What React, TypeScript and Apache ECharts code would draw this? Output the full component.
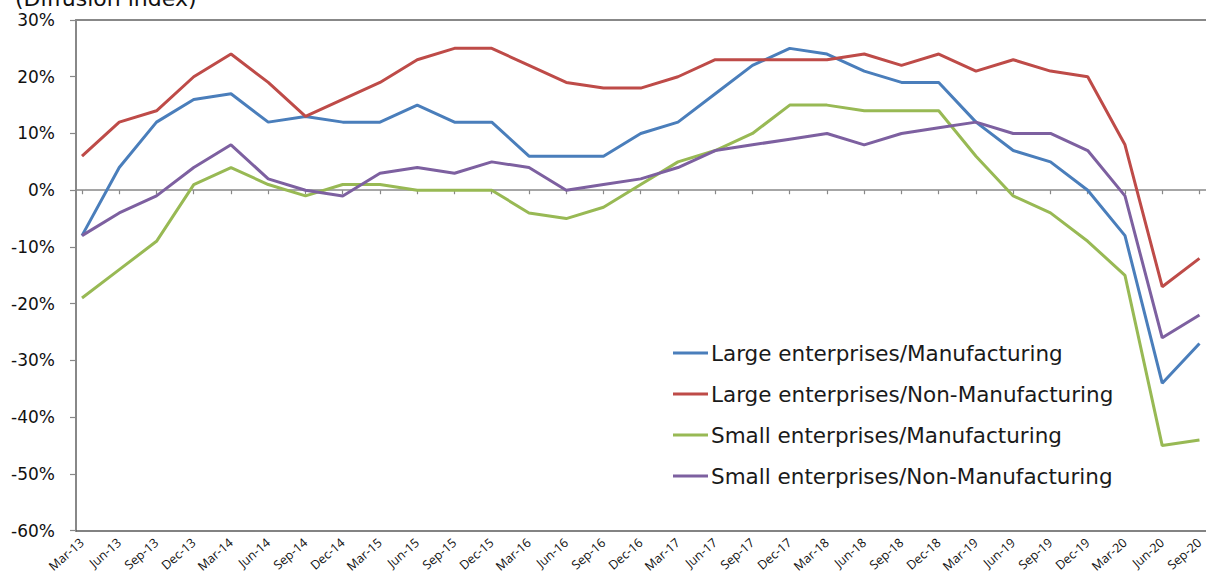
import React, { useEffect, useRef } from "react";
import * as echarts from "echarts";

const categories = [
  "Mar-13", "Jun-13", "Sep-13", "Dec-13",
  "Mar-14", "Jun-14", "Sep-14", "Dec-14",
  "Mar-15", "Jun-15", "Sep-15", "Dec-15",
  "Mar-16", "Jun-16", "Sep-16", "Dec-16",
  "Mar-17", "Jun-17", "Sep-17", "Dec-17",
  "Mar-18", "Jun-18", "Sep-18", "Dec-18",
  "Mar-19", "Jun-19", "Sep-19", "Dec-19",
  "Mar-20", "Jun-20", "Sep-20",
];

const largeMfg = [-8, 4, 12, 16, 17, 12, 13, 12, 12, 15, 12, 12, 6, 6, 6, 10, 12, 17, 22, 25, 24, 21, 19, 19, 12, 7, 5, 0, -8, -34, -27];
const largeNonMfg = [6, 12, 14, 20, 24, 19, 13, 16, 19, 23, 25, 25, 22, 19, 18, 18, 20, 23, 23, 23, 23, 24, 22, 24, 21, 23, 21, 20, 8, -17, -12];
const smallMfg = [-19, -14, -9, 1, 4, 1, -1, 1, 1, 0, 0, 0, -4, -5, -3, 1, 5, 7, 10, 15, 15, 14, 14, 14, 6, -1, -4, -9, -15, -45, -44];
const smallNonMfg = [-8, -4, -1, 4, 8, 2, 0, -1, 3, 4, 3, 5, 4, 0, 1, 2, 4, 7, 8, 9, 10, 8, 10, 11, 12, 10, 10, 7, -1, -26, -22];

const seriesNames = [
  "Large enterprises/Manufacturing",
  "Large enterprises/Non-Manufacturing",
  "Small enterprises/Manufacturing",
  "Small enterprises/Non-Manufacturing",
];
const seriesColors = ["#4a7ebb", "#be4b48", "#98b954", "#7d60a0"];
const seriesData = [largeMfg, largeNonMfg, smallMfg, smallNonMfg];

const yMin = -60;
const yMax = 30;
const yStep = 10;

export default function App() {
  const ref = useRef<HTMLDivElement>(null);
  useEffect(() => {
    if (!ref.current) return;
    const chart = echarts.init(ref.current, undefined, { renderer: "svg" });
    const hidden = { show: false };
    const gridTop = 20;
    const gridBottom = 47.3;
    chart.setOption({
      animation: false,
      backgroundColor: "#ffffff",
      grid: [
        { left: 76, right: 0, top: gridTop, bottom: gridBottom },
        { left: 82, right: 3, top: gridTop, bottom: gridBottom },
      ],
      graphic: [
        {
          type: "text",
          x: 15,
          y: 9,
          style: {
            text: "(Diffusion index)",
            fontSize: 22,
            fontFamily: "DejaVu Sans",
            fill: "#111111",
            verticalAlign: "bottom",
          },
        },
      ],
      legend: {
        orient: "vertical",
        left: 673,
        top: 342,
        padding: 0,
        icon: "rect",
        itemWidth: 35,
        itemHeight: 3,
        itemGap: 19,
        data: seriesNames,
        textStyle: {
          fontSize: 21.5,
          lineHeight: 22,
          fontFamily: "DejaVu Sans",
          color: "#1a1a1a",
          padding: [0, 0, 0, -2],
        },
      },
      xAxis: [
        {
          gridIndex: 0,
          type: "value",
          min: 0,
          max: 1,
          position: "bottom",
          axisLine: { show: true, onZero: false, lineStyle: { color: "#5a5a5a", width: 1.5 } },
          axisTick: hidden,
          axisLabel: hidden,
          splitLine: hidden,
        },
        {
          gridIndex: 0,
          type: "value",
          min: 0,
          max: 1,
          position: "top",
          axisLine: { show: true, onZero: false, lineStyle: { color: "#888888", width: 2 } },
          axisTick: hidden,
          axisLabel: hidden,
          splitLine: hidden,
        },
        {
          gridIndex: 0,
          type: "value",
          min: 0,
          max: 1,
          position: "bottom",
          axisLine: { show: true, onZero: true, lineStyle: { color: "#888888", width: 1.5 } },
          axisTick: hidden,
          axisLabel: hidden,
          splitLine: hidden,
        },
        {
          gridIndex: 1,
          type: "category",
          data: categories,
          boundaryGap: false,
          position: "bottom",
          axisLine: { show: false, onZero: false },
          axisTick: hidden,
          axisLabel: {
            rotate: 41,
            interval: 0,
            margin: 10,
            fontSize: 12.5,
            fontFamily: "Open Sans",
            color: "#111111",
          },
          splitLine: hidden,
        },
        {
          gridIndex: 1,
          type: "category",
          data: categories,
          boundaryGap: false,
          position: "bottom",
          axisLine: { show: false, onZero: true },
          axisTick: { show: true, interval: 0, length: 4, lineStyle: { color: "#888888", width: 1.2 } },
          axisLabel: hidden,
          splitLine: hidden,
        },
      ],
      yAxis: [
        {
          gridIndex: 0,
          type: "value",
          min: yMin,
          max: yMax,
          interval: yStep,
          axisLine: { show: true, onZero: false, lineStyle: { color: "#888888", width: 2 } },
          axisTick: { show: true, length: 6, lineStyle: { color: "#888888", width: 1.2 } },
          axisLabel: {
            formatter: "{value}%",
            fontSize: 17,
            fontFamily: "DejaVu Sans",
            color: "#111111",
            margin: 21,
          },
          splitLine: hidden,
        },
        {
          gridIndex: 1,
          type: "value",
          min: yMin,
          max: yMax,
          interval: yStep,
          show: false,
          axisLine: { onZero: false },
          splitLine: hidden,
        },
      ],
      series: seriesNames.map((name, i) => ({
        name,
        type: "line",
        xAxisIndex: 3,
        yAxisIndex: 1,
        data: seriesData[i],
        symbol: "none",
        lineStyle: { color: seriesColors[i], width: 3 },
        itemStyle: { color: seriesColors[i] },
      })),
    });
    return () => chart.dispose();
  }, []);
  return (
    <div
      ref={ref}
      style={{ position: "absolute", left: 0, top: 0, width: 1206, height: 578 }}
    />
  );
}
